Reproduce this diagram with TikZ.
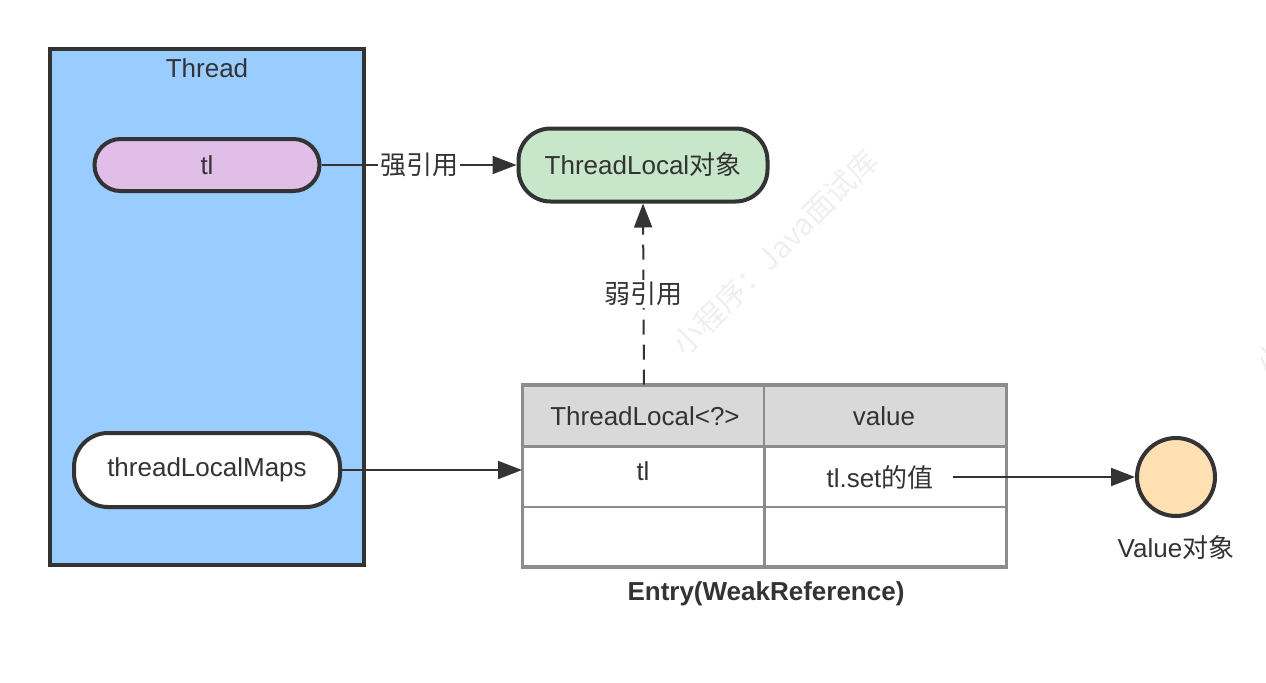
\documentclass[tikz,border=0pt]{standalone}
\usepackage{fontspec}
\setmainfont{Liberation Sans}
\newfontfamily\cjk{Noto Sans CJK SC}
\usepackage{tikz}
\usetikzlibrary{arrows.meta}

\definecolor{ink}{HTML}{333333}
\definecolor{threadblue}{HTML}{99CCFF}
\definecolor{tlpurple}{HTML}{E1BEE7}
\definecolor{objgreen}{HTML}{C8E6C9}
\definecolor{valorange}{HTML}{FFE0B2}
\definecolor{cellgray}{HTML}{D9D9D9}
\definecolor{linegray}{HTML}{8C8C8C}
\definecolor{markgray}{HTML}{EFEFEF}

\begin{document}
\begin{tikzpicture}[x=0.5pt, y=-0.5pt,
  every node/.style = {text=ink, font=\fontsize{13pt}{15pt}\selectfont},
  pill/.style = {draw=ink, line width=2pt, rounded corners=13pt},
  cell/.style = {draw=linegray, line width=1pt, minimum width=121pt, minimum height=30pt},
  ref/.style = {draw=ink, line width=1pt, -{Triangle[length=12pt, width=9pt]}}]
\useasboundingbox (0,0) rectangle (1266,682);
% watermark
\node [text=markgray, rotate=45, font=\fontsize{15pt}{17pt}\cjk] (mark) at (775,252) {小程序：Java面试库};
\node [text=markgray, rotate=45, font=\fontsize{15pt}{17pt}\cjk, anchor=west] (mark2) at (1255,372) {小程序：Java面试库};
% thread
\node [draw=ink, line width=2pt, fill=threadblue, minimum width=157pt, minimum height=258pt] (thread) at (207,307) {};
\node (threadlabel) at (207,68) {Thread};
\node [pill, fill=tlpurple, minimum width=112.5pt, minimum height=26pt] (tl) at (207,165) {tl};
\node [pill, fill=white, rounded corners=17pt, minimum width=133pt, minimum height=37pt] (maps) at (207,470) {threadLocalMaps};
% threadlocal object
\node [pill, fill=objgreen, rounded corners=16pt, minimum width=124.5pt, minimum height=36.5pt] (tlobj) at (643,165) {ThreadLocal{\cjk 对象}};
% entry table
\node [cell, fill=cellgray] (k0) at (644,415.5) {};
\node [cell, fill=cellgray] (v0) at (884.5,415.5) {};
\node [cell] (k1) at (644,476.5) {};
\node [cell] (v1) at (884.5,476.5) {};
\node [cell, minimum height=29.5pt] (k2) at (644,536.5) {};
\node [cell, minimum height=29.5pt] (v2) at (884.5,536.5) {};
\draw [linegray, line width=1.5pt] (k0.north west) rectangle (v2.south east);
\node (k0text) at (645,416) {ThreadLocal<?>};
\node (v0text) at (884,416) {value};
\node (k1text) at (643,471) {tl};
\node (setval) at (880,478) {tl.set{\cjk 的值}};
\node [font=\fontsize{13pt}{15pt}\selectfont\bfseries] (entrylabel) at (766,594) {Entry(WeakReference)};
% value object
\node [circle, draw=ink, line width=2pt, fill=valorange, minimum size=39pt] (val) at (1176,477) {};
\node (vallabel) at (1176,548) {Value{\cjk 对象}};
% references
\draw [ref] (tl.east) -- node [fill=white, inner sep=1pt, font=\fontsize{13pt}{15pt}\cjk] (strong) {强引用} (tlobj.west);
\draw [ref, dash pattern=on 7.5pt off 5pt] (k0.north) -- node [fill=white, inner sep=1pt, font=\fontsize{13pt}{15pt}\cjk] (weak) {弱引用} (tlobj.south);
\draw [ref] (maps.east) -- (maps.east -| k0.west);
\draw [ref] ([xshift=6pt]setval.east |- val.west) -- (val.west);
\end{tikzpicture}
\end{document}
